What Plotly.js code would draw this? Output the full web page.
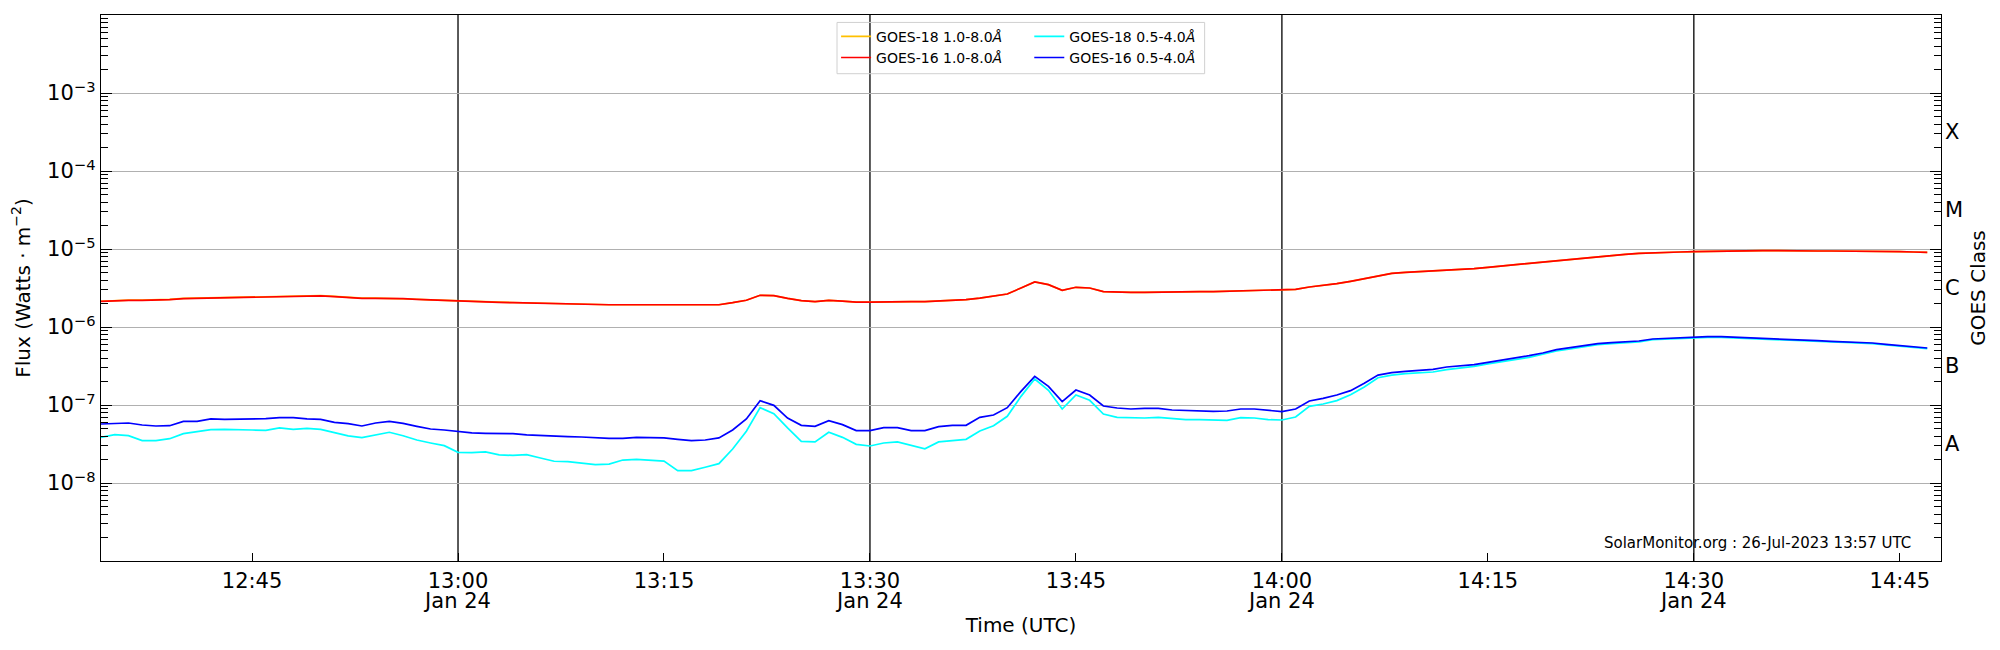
<!DOCTYPE html>
<html>
<head>
<meta charset="utf-8">
<script src="https://cdn.plot.ly/plotly-3.0.1.min.js"></script>
<style>
	html, body { margin: 0; padding: 0; background: #fff; }
	#chart { width: 2000px; height: 650px; }
</style>
</head>
<body>
<div id="chart"></div>
<script>
// GOES XRS 1-minute fluxes, 24 Jan 2023 12:34-14:47 UTC, in nW/m^2
const startTime = '2023-01-24T12:34:00Z'

const goes18Long = [
	2140, 2190, 2210, 2210, 2220, 2260, 2330, 2350, 2400, 2420, 2440, 2440, 2470, 2490, 2520, 2520, 2520, 2470, 2400, 2350, 2350, 2340, 2320, 2270, 2230, 2190, 2160, 2120, 2100, 2080, 2060, 2040, 2020, 1980,
	1970, 1950, 1930, 1930, 1930, 1930, 1930, 1910, 1900, 1900, 1900, 1930, 2050, 2200, 2550, 2520, 2330, 2180, 2110, 2200, 2150, 2090, 2090, 2110, 2130, 2110, 2110, 2150, 2200, 2240, 2350, 2470, 2650,
	3160, 3780, 3490, 2950, 3230, 3160, 2840, 2780, 2780, 2780, 2810, 2810, 2810, 2840, 2840, 2870, 2920, 2950, 2950, 2950, 3040, 3260, 3420, 3590, 3850, 4170, 4600, 4880, 5020, 5120, 5270, 5380, 5490, 5600,
	5820, 6050, 6300, 6550, 6810, 7160, 7440, 7740, 8050, 8290, 8550, 8800, 8970, 9060, 9150, 9240, 9330, 9430, 9430, 9520, 9520, 9520, 9430, 9430, 9430, 9430, 9430, 9430, 9430, 9330, 9240, 9150, 9060,
]
const goes16Long = [
	2130, 2180, 2200, 2200, 2200, 2240, 2310, 2330, 2380, 2400, 2420, 2420, 2450, 2470, 2500, 2500, 2500, 2450, 2380, 2330, 2330, 2330, 2310, 2260, 2220, 2180, 2150, 2110, 2090, 2070, 2050, 2030, 2010, 1970,
	1970, 1950, 1930, 1930, 1930, 1930, 1930, 1910, 1900, 1900, 1900, 1930, 2050, 2200, 2550, 2520, 2330, 2180, 2110, 2200, 2150, 2090, 2090, 2110, 2130, 2110, 2110, 2150, 2200, 2240, 2350, 2470, 2650,
	3160, 3780, 3490, 2950, 3230, 3160, 2840, 2780, 2780, 2780, 2810, 2810, 2810, 2840, 2840, 2870, 2920, 2950, 2950, 2950, 3040, 3260, 3420, 3590, 3850, 4170, 4600, 4880, 5020, 5120, 5270, 5380, 5490, 5600,
	5820, 6050, 6300, 6550, 6810, 7160, 7440, 7740, 8050, 8290, 8550, 8800, 8970, 9060, 9150, 9240, 9330, 9430, 9430, 9520, 9520, 9520, 9430, 9430, 9430, 9430, 9430, 9430, 9430, 9330, 9240, 9150, 9060,
]
const goes18Short = [
	38.5, 41.7, 40.4, 34.9, 34.9, 37.0, 42.9, 46.0, 48.3, 48.8, 47.8, 47.8, 47.3, 50.8, 48.8, 50.2, 48.8, 44.2, 40.1, 38.1, 41.7, 44.7, 40.4, 35.6, 32.6, 30.1, 24.7, 24.5, 25.0, 22.9, 22.6, 23.1, 20.9, 19.0,
	18.8, 18.1, 17.2, 17.5, 19.7, 20.1, 19.5, 19.1, 14.4, 14.4, 15.9, 17.7, 27.3, 46.0, 92.4, 77.4, 50.8, 34.2, 33.6, 44.7, 38.5, 31.3, 29.8, 32.6, 33.6, 30.1, 27.5, 33.6, 34.9, 36.3, 46.4, 54.3, 71.6,
	129, 215, 154, 88.9, 134.3, 114.8, 76.7, 69.5, 68.1, 68.1, 69.5, 66.8, 64.9, 64.9, 63.6, 63.6, 68.8, 68.1, 64.9, 64.2, 70.2, 96.1, 103, 113.7, 135.7, 170, 224, 242, 252, 257, 265, 284, 295, 313,
	336, 356, 381, 408, 447, 492, 522, 560, 594, 611, 624, 642, 688, 702, 716, 730, 737, 737, 723, 709, 702, 681, 668, 661, 655, 642, 636, 630, 611, 588, 565, 543, 527,
]
const goes16Short = [
	57.1, 58.2, 58.8, 55.4, 53.8, 54.3, 61.7, 61.7, 66.2, 65.5, 65.5, 66.2, 66.8, 68.8, 68.8, 66.2, 65.5, 60.0, 57.7, 53.8, 58.8, 61.7, 58.2, 53.3, 49.2, 47.8, 45.5, 43.8, 43.3, 42.9, 42.9, 41.3, 40.4, 39.3,
	39.3, 38.9, 37.8, 37.4, 37.4, 38.5, 38.1, 37.8, 36.3, 34.9, 35.6, 37.8, 47.8, 66.2, 113.7, 99.0, 68.1, 54.9, 53.3, 63.0, 56.0, 46.9, 46.9, 51.2, 51.2, 46.9, 46.9, 52.7, 54.9, 54.9, 69.5, 74.4, 92.4,
	149.7, 233, 173.5, 110.3, 155.7, 134.3, 97.1, 91.5, 88.9, 90.6, 90.6, 86.3, 84.6, 82.9, 82.9, 83.8, 88.9, 88.9, 84.6, 82.1, 88.9, 112.5, 121.8, 134.3, 152.7, 189.5, 242, 260, 270, 278, 287, 307, 316, 329,
	352, 374, 401, 429, 464, 512, 543, 577, 611, 630, 642, 661, 702, 716, 730, 744, 752, 752, 737, 723, 716, 695, 681, 675, 668, 655, 649, 642, 624, 600, 577, 554, 538,
]

const xTicks = ['12:45', '13:00', '13:15', '13:30', '13:45', '14:00', '14:15', '14:30', '14:45']
const halfHours = ['13:00', '13:30', '14:00', '14:30']
const dateLabel = 'Jan 24'
const yTicks = [1e-8, 1e-7, 1e-6, 1e-5, 1e-4, 1e-3]
const yTickText = ['10<sup>−8</sup>', '10<sup>−7</sup>', '10<sup>−6</sup>', '10<sup>−5</sup>', '10<sup>−4</sup>', '10<sup>−3</sup>']
const classTicks = [3.16e-8, 3.16e-7, 3.16e-6, 3.16e-5, 3.16e-4]
const classLabels = ['A', 'B', 'C', 'M', 'X']

const day = '2023-01-24 '
const t0 = Date.parse(startTime)
const times = goes16Long.map((_, i) => new Date(t0 + i * 60000).toISOString().slice(0, 19).replace('T', ' '))
const flux = arr => arr.map(v => v * 1e-9)

const font = 'DejaVu Sans, sans-serif'

function series(name, values, color, legend) {
	return {
		x: times,
		y: flux(values),
		type: 'scatter',
		mode: 'lines',
		name: name,
		legend: legend,
		line: { color: color, width: 1.7 },
		hoverinfo: 'skip',
	}
}

const traces = [
	series('GOES-18 1.0-8.0<i>Å</i>', goes18Long, '#ffc000', 'legend'),
	series('GOES-16 1.0-8.0<i>Å</i>', goes16Long, '#ff0000', 'legend'),
	series('GOES-18 0.5-4.0<i>Å</i>', goes18Short, '#00ffff', 'legend2'),
	series('GOES-16 0.5-4.0<i>Å</i>', goes16Short, '#0000ff', 'legend2'),
	// invisible copy so the date row and the GOES class axis get drawn
	{
		x: times,
		y: flux(goes16Long),
		xaxis: 'x2',
		yaxis: 'y2',
		type: 'scatter',
		mode: 'lines',
		opacity: 0,
		showlegend: false,
		hoverinfo: 'skip',
	},
]

const legendStyle = {
	xanchor: 'left',
	yanchor: 'top',
	y: 0.9896,
	bgcolor: 'rgba(0,0,0,0)',
	borderwidth: 0,
	font: { family: font, size: 14, color: '#000' },
	traceorder: 'normal',
}

const timeRange = [day + '12:34', day + '14:48']

const layout = {
	width: 2000,
	height: 650,
	margin: { l: 101, r: 59, t: 15, b: 89 },
	paper_bgcolor: '#fff',
	plot_bgcolor: '#fff',
	font: { family: font, size: 21, color: '#000' },
	showlegend: true,
	legend: { ...legendStyle, x: 0.3995 },
	legend2: { ...legendStyle, x: 0.5045 },
	xaxis: {
		type: 'date',
		range: timeRange,
		tickmode: 'array',
		tickvals: xTicks.map(t => day + t),
		ticktext: xTicks,
		ticks: 'inside',
		ticklen: 8,
		tickwidth: 1,
		tickcolor: '#000',
		tickfont: { size: 21 },
		showgrid: false,
		zeroline: false,
		showline: true,
		mirror: true,
		linecolor: '#000',
		linewidth: 1.3,
		title: { text: 'Time (UTC)', font: { size: 20 }, standoff: 26 },
	},
	xaxis2: {
		type: 'date',
		overlaying: 'x',
		anchor: 'y',
		side: 'bottom',
		range: timeRange,
		tickmode: 'array',
		tickvals: halfHours.map(t => day + t),
		ticktext: halfHours.map(() => dateLabel),
		ticks: '',
		ticklabelstandoff: 25,
		tickfont: { size: 21 },
		showgrid: false,
		zeroline: false,
		showline: false,
	},
	yaxis: {
		type: 'log',
		range: [-9, -2],
		tickmode: 'array',
		tickvals: yTicks,
		ticktext: yTickText,
		ticks: 'inside',
		ticklen: 11,
		tickwidth: 1,
		tickcolor: '#000',
		tickfont: { size: 21 },
		showgrid: true,
		gridcolor: '#b0b0b0',
		gridwidth: 1,
		minor: { ticks: 'inside', ticklen: 7, tickwidth: 1, tickcolor: '#000', dtick: 'D1', showgrid: false },
		zeroline: false,
		showline: true,
		mirror: 'ticks',
		linecolor: '#000',
		linewidth: 1.3,
		title: { text: 'Flux (Watts · m<sup>−2</sup>)', font: { size: 20 }, standoff: 11 },
	},
	yaxis2: {
		type: 'log',
		overlaying: 'y',
		anchor: 'x',
		side: 'right',
		range: [-9, -2],
		tickmode: 'array',
		tickvals: classTicks,
		ticktext: classLabels,
		ticks: '',
		ticklabelstandoff: 3,
		tickfont: { size: 21 },
		showgrid: false,
		zeroline: false,
		showline: false,
		title: { text: 'GOES Class', font: { size: 20 }, standoff: 8 },
	},
	shapes: [
		...halfHours.map(t => ({
			type: 'line',
			xref: 'x',
			yref: 'paper',
			x0: day + t,
			x1: day + t,
			y0: 0,
			y1: 1,
			line: { color: '#000', width: 1.3 },
			layer: 'between',
		})),
		{
			type: 'rect',
			xref: 'paper',
			yref: 'paper',
			x0: 0.4,
			x1: 0.5998,
			y0: 0.8925,
			y1: 0.9864,
			line: { color: '#d0d0d0', width: 1 },
			fillcolor: 'rgba(0,0,0,0)',
			layer: 'above',
		},
	],
	annotations: [
		{
			text: 'SolarMonitor.org : 26-Jul-2023 13:57 UTC',
			xref: 'paper',
			yref: 'paper',
			x: 0.9846,
			y: 0.033,
			xanchor: 'right',
			yanchor: 'middle',
			showarrow: false,
			font: { family: font, size: 15, color: '#000' },
		},
	],
}

Plotly.newPlot('chart', traces, layout, { staticPlot: true, displayModeBar: false })
</script>
</body>
</html>
